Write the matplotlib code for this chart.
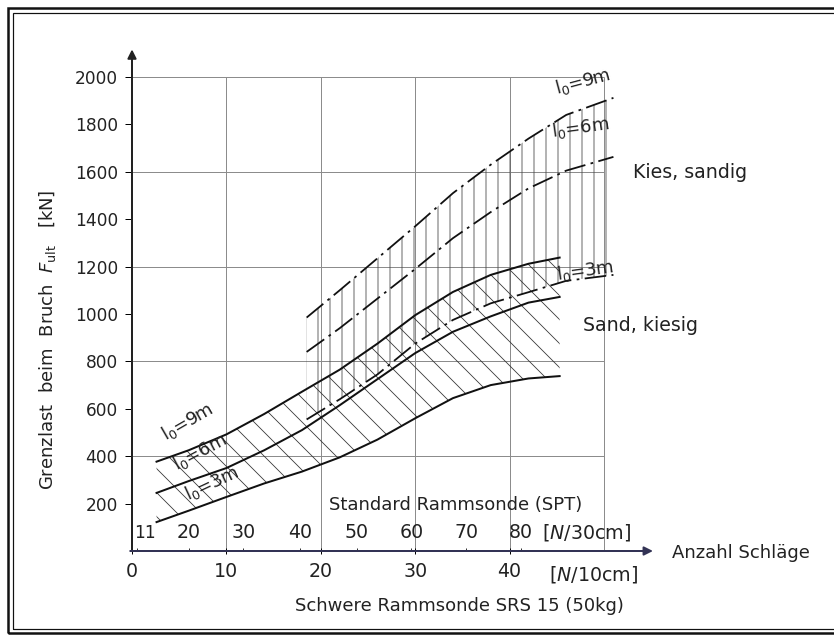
import matplotlib
matplotlib.use("Agg")
import matplotlib.pyplot as plt
from matplotlib.patches import Rectangle

# Schwere Rammsonde SRS 15, Schlagzahl N/10cm
sand_x = [2.6, 6, 10, 14, 18, 22, 26, 30, 34, 38, 42, 45.3]
sand_9m = [377, 425, 492, 578, 672, 765, 875, 995, 1093, 1165, 1212, 1238]
sand_6m = [245, 295, 350, 425, 510, 615, 725, 835, 925, 990, 1048, 1072]
sand_3m = [122, 170, 228, 285, 335, 395, 470, 560, 645, 700, 728, 738]

kies_x = [18.5, 22, 26, 30, 34, 38, 42, 46, 51]
kies_9m = [985, 1100, 1235, 1370, 1510, 1630, 1740, 1840, 1912]
kies_6m = [840, 940, 1065, 1190, 1320, 1430, 1530, 1605, 1663]
kies_3m = [555, 640, 745, 875, 975, 1045, 1092, 1140, 1165]

srs_ticks = [0, 10, 20, 30, 40]
y_ticks = [200, 400, 600, 800, 1000, 1200, 1400, 1600, 1800, 2000]
grid_y = [400, 800, 1200, 1600, 2000]
grid_x = [10, 20, 30, 40, 50]
spt_labels = ["11", "20", "30", "40", "50", "60", "70", "80"]
spt_pos = [0.5, 6.0, 11.8, 17.8, 23.8, 29.6, 35.4, 41.2]

plt.rcParams['font.family'] = ['DejaVu Sans']
plt.rcParams['hatch.linewidth'] = 0.8
plt.rcParams['mathtext.fontset'] = 'dejavusans'

W, H = 834, 636
ink = '#222222'
fig = plt.figure(figsize=(W / 72, H / 72), dpi=72)
ax = fig.add_axes([132 / W, (H - 551) / H, (700 - 132) / W, (551 - 30) / H])
ax.set_xlim(0, 568 / 9.44)
ax.set_ylim(0, 521 / 0.237)
for s in ax.spines.values():
    s.set_visible(False)

# Raster
ax.hlines(grid_y, 0, 50, color='#8c8c8c', lw=1, zorder=1)
ax.vlines(grid_x, -15, 2000, color='#8c8c8c', lw=1, zorder=1)

# Bereiche
ax.fill_between(kies_x, kies_3m, kies_9m, facecolor='none', edgecolor='#444444',
                hatch='|', lw=0, zorder=2)
ax.fill_between(sand_x, sand_3m, sand_9m, facecolor='none', edgecolor='#333333',
                hatch='\\', lw=0, zorder=2)

# Kurven
dd = (0, (12, 3, 1.5, 3))
for yv in (kies_9m, kies_6m, kies_3m):
    ax.plot(kies_x, yv, color='#111111', lw=1.8, ls=dd, zorder=3)
for yv in (sand_9m, sand_6m, sand_3m):
    ax.plot(sand_x, yv, color='#111111', lw=2.0, zorder=3)

# Achsen mit Pfeilen
ax.annotate('', xy=(0, 2125), xytext=(0, -5),
            arrowprops=dict(arrowstyle='-|>', lw=2, color=ink, mutation_scale=18))
ax.annotate('', xy=(55.4, 0), xytext=(-0.4, 0),
            arrowprops=dict(arrowstyle='-|>', lw=2, color='#333355', mutation_scale=18))

ax.set_yticks(y_ticks)
ax.set_yticklabels([str(v) for v in y_ticks], fontsize=17, color=ink)
ax.set_xticks(srs_ticks)
ax.set_xticklabels([str(v) for v in srs_ticks], fontsize=19, color=ink)
ax.tick_params(axis='y', direction='out', length=7, width=1, pad=7)
ax.tick_params(axis='x', direction='inout', length=6, width=1, pad=8)

# SPT-Skala
ax.plot(spt_pos, [0] * len(spt_pos), ls='none', marker='|', ms=7, mew=1, color='#333333')
for lab, p in zip(spt_labels, spt_pos):
    if lab == "11":
        ax.text(0.25, 78, lab, ha='left', va='center', fontsize=17, color=ink)
    else:
        ax.text(p, 78, lab, ha='center', va='center', fontsize=19, color=ink)
ax.text(48.2, 78, '[$N$/30cm]', ha='center', va='center', fontsize=19, color=ink)
ax.text(34.3, 196, 'Standard Rammsonde (SPT)', ha='center', va='center', fontsize=18,
        color=ink)

ax.text(48.9, -101, '[$N$/10cm]', ha='center', va='center', fontsize=19,
        color=ink, clip_on=False)
ax.text(34.7, -232, 'Schwere Rammsonde SRS 15 (50kg)', ha='center', va='center',
        fontsize=18, color=ink, clip_on=False)
ax.text(57.2, -8, 'Anzahl Schläge', ha='left', va='center', fontsize=18, color=ink)
ax.text(-8.9, 890, r'Grenzlast  beim  Bruch  $F_{\mathrm{ult}}$   [kN]', rotation=90,
        ha='center', va='center', fontsize=18, color=ink, clip_on=False)

ax.text(53.1, 1598, 'Kies, sandig', ha='left', va='center', fontsize=19, color=ink)
ax.text(47.8, 953, 'Sand, kiesig', ha='left', va='center', fontsize=19, color=ink)

# Kurvenbeschriftungen
labels = [
    (5.9, 544, 30, '9'), (7.2, 418, 28, '6'), (8.5, 287, 25, '3'),
    (47.7, 1979, 15, '9'), (47.5, 1785, 8, '6'), (48.0, 1184, 8, '3'),
]
for lx, ly, rot, l0 in labels:
    ax.text(lx, ly, r'l$_0$=' + l0 + 'm', rotation=rot, ha='center', va='center',
            fontsize=18, color=ink)

# Doppelter Rahmen
fig.add_artist(Rectangle((8 / W, 3 / H), 1.2, (H - 11) / H, transform=fig.transFigure,
                         fill=False, lw=2.5, ec='#111111'))
fig.add_artist(Rectangle((13 / W, 7 / H), 1.2, (H - 20) / H, transform=fig.transFigure,
                         fill=False, lw=1.2, ec='#111111'))

fig.savefig('out.png', dpi=72)
